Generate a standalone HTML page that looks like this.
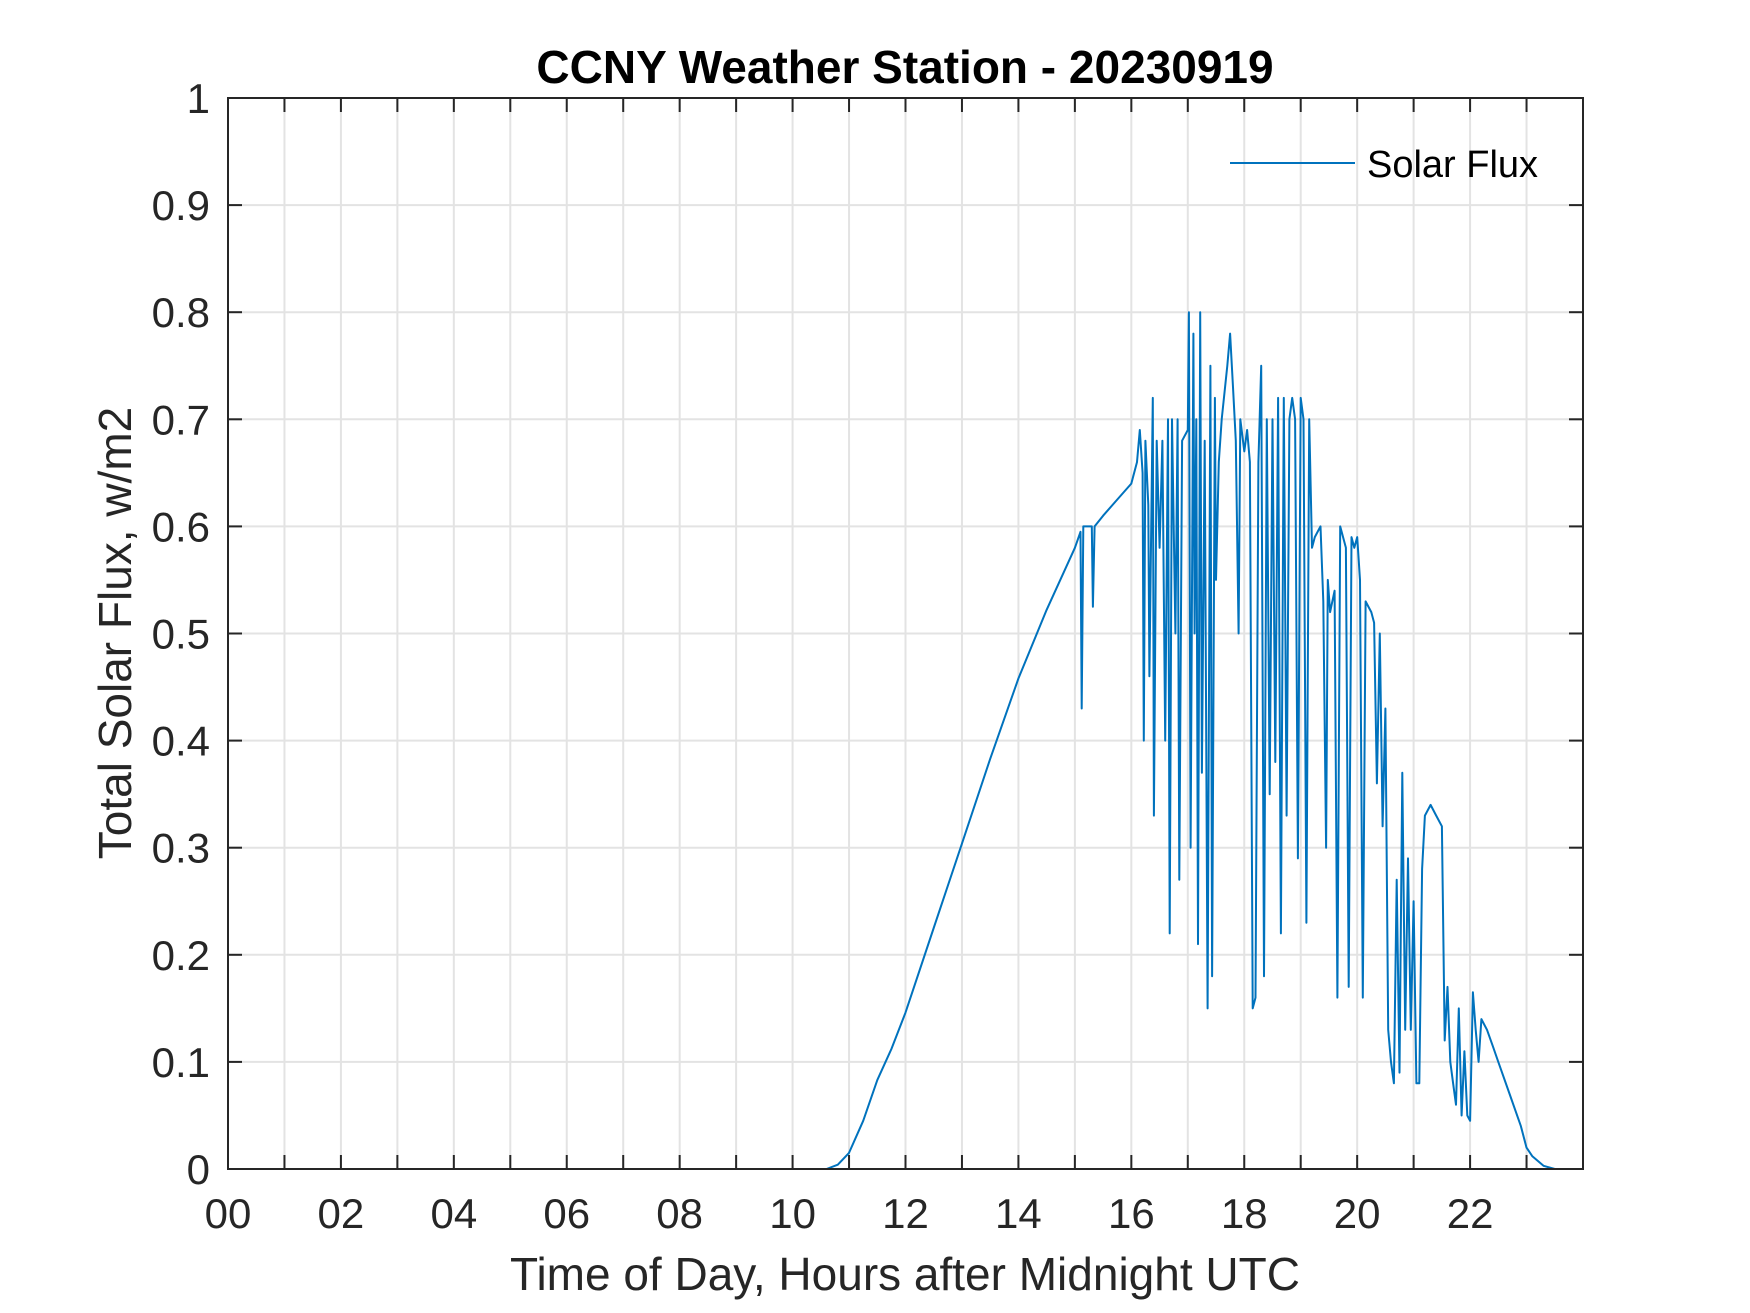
<!DOCTYPE html>
<html><head><meta charset="utf-8">
<style>
html,body{margin:0;padding:0;background:#fff;}
svg{display:block;font-family:"Liberation Sans",Arial,sans-serif;}
</style></head>
<body>
<svg id="chart" width="1750" height="1313" viewBox="0 0 1750 1313">
<rect x="0" y="0" width="1750" height="1313" fill="#fff"/>
<text x="905" y="83" text-anchor="middle" font-size="46" font-weight="bold" fill="#000">CCNY Weather Station - 20230919</text>
<g id="grid"></g>
<g id="ticks"></g>
<g id="plot"></g>
<rect x="228" y="98" width="1355" height="1071" fill="none" stroke="#262626" stroke-width="2"/>
<g id="labels"></g>
<text x="905" y="1290" text-anchor="middle" font-size="46" fill="#262626">Time of Day, Hours after Midnight UTC</text>
<text transform="translate(131,633) rotate(-90)" text-anchor="middle" font-size="46" fill="#262626">Total Solar Flux, w/m2</text>
<g>
<line x1="1230" y1="163" x2="1355" y2="163" stroke="#0072BD" stroke-width="2"/>
<text x="1367" y="177" font-size="38" fill="#000">Solar Flux</text>
</g>
</svg>
<script>
const hours = [0,10.6,10.8,11,11.25,11.5,11.75,12,12.5,13,13.5,14,14.5,15,15.1,15.12,15.15,15.3,15.32,15.35,15.5,15.75,16,16.1,16.15,16.2,16.22,16.25,16.3,16.32,16.38,16.4,16.45,16.5,16.55,16.6,16.65,16.68,16.72,16.78,16.82,16.85,16.9,17.0,17.02,17.05,17.1,17.12,17.15,17.18,17.22,17.25,17.3,17.35,17.4,17.43,17.48,17.5,17.55,17.6,17.7,17.75,17.8,17.85,17.9,17.93,18.0,18.05,18.1,18.15,18.2,18.25,18.3,18.35,18.4,18.45,18.5,18.55,18.6,18.65,18.7,18.75,18.8,18.85,18.9,18.95,19.0,19.05,19.1,19.15,19.2,19.25,19.35,19.4,19.45,19.48,19.52,19.6,19.65,19.7,19.8,19.85,19.9,19.95,20.0,20.05,20.1,20.15,20.25,20.3,20.35,20.4,20.45,20.5,20.55,20.6,20.65,20.7,20.75,20.8,20.85,20.9,20.95,21.0,21.05,21.1,21.15,21.2,21.3,21.4,21.5,21.55,21.6,21.65,21.7,21.75,21.8,21.85,21.9,21.95,22.0,22.05,22.1,22.15,22.2,22.3,22.4,22.5,22.7,22.9,23.0,23.1,23.3,23.5,24];
const flux = [0,0,0.004,0.015,0.045,0.083,0.112,0.146,0.225,0.304,0.383,0.458,0.522,0.58,0.595,0.43,0.6,0.6,0.525,0.6,0.61,0.625,0.64,0.66,0.69,0.65,0.40,0.68,0.62,0.46,0.72,0.33,0.68,0.58,0.68,0.40,0.70,0.22,0.70,0.50,0.70,0.27,0.68,0.69,0.80,0.30,0.78,0.50,0.70,0.21,0.80,0.37,0.68,0.15,0.75,0.18,0.72,0.55,0.66,0.70,0.75,0.78,0.73,0.68,0.50,0.70,0.67,0.69,0.66,0.15,0.16,0.66,0.75,0.18,0.70,0.35,0.70,0.38,0.72,0.22,0.72,0.33,0.70,0.72,0.70,0.29,0.72,0.70,0.23,0.70,0.58,0.59,0.60,0.53,0.30,0.55,0.52,0.54,0.16,0.60,0.58,0.17,0.59,0.58,0.59,0.55,0.16,0.53,0.52,0.51,0.36,0.50,0.32,0.43,0.13,0.10,0.08,0.27,0.09,0.37,0.13,0.29,0.13,0.25,0.08,0.08,0.28,0.33,0.34,0.33,0.32,0.12,0.17,0.10,0.08,0.06,0.15,0.05,0.11,0.05,0.045,0.165,0.13,0.10,0.14,0.13,0.115,0.10,0.07,0.04,0.02,0.012,0.003,0,0];
const xTicks = ["00","02","04","06","08","10","12","14","16","18","20","22"];
const yTicks = ["0","0.1","0.2","0.3","0.4","0.5","0.6","0.7","0.8","0.9","1"];

const NS = "http://www.w3.org/2000/svg";
const X0 = 228, X1 = 1583, Y0 = 1169, Y1 = 98;
function xs(h){ return X0 + (h/24)*(X1-X0); }
function ys(v){ return Y0 - v*(Y0-Y1); }
function mk(tag, attrs, parent){ const e = document.createElementNS(NS, tag); for (const k in attrs) e.setAttribute(k, attrs[k]); parent.appendChild(e); return e; }
const grid = document.getElementById('grid'), ticks = document.getElementById('ticks'), labels = document.getElementById('labels'), plot = document.getElementById('plot');

for (let h = 1; h < 24; h++) {
  const x = xs(h);
  const g = mk('line', {x1:x, y1:Y1, x2:x, y2:Y0, stroke:'#e3e3e3', 'stroke-width':2}, grid);
  
  
  const t1 = mk('line', {x1:x, y1:Y0, x2:x, y2:Y0-14, stroke:'#262626', 'stroke-width':2}, ticks);
  
  
  const t2 = mk('line', {x1:x, y1:Y1, x2:x, y2:Y1+14, stroke:'#262626', 'stroke-width':2}, ticks);
  
  
}
xTicks.forEach((lab, i) => {
  const t = mk('text', {x:xs(i*2), y:1228, 'text-anchor':'middle', 'font-size':42, fill:'#262626'}, labels);
  t.textContent = lab;
  
  
});
yTicks.forEach((lab, i) => {
  const v = parseFloat(lab), y = ys(v);
  if (i > 0 && i < yTicks.length-1) {
    const g = mk('line', {x1:X0, y1:y, x2:X1, y2:y, stroke:'#e3e3e3', 'stroke-width':2}, grid);
    
    
    const t1 = mk('line', {x1:X0, y1:y, x2:X0+14, y2:y, stroke:'#262626', 'stroke-width':2}, ticks);
    
    
    const t2 = mk('line', {x1:X1, y1:y, x2:X1-14, y2:y, stroke:'#262626', 'stroke-width':2}, ticks);
    
    
  }
  const t = mk('text', {x:210, y:y+15, 'text-anchor':'end', 'font-size':42, fill:'#262626'}, labels);
  t.textContent = lab;
  
  
});
const pts = hours.map((h, i) => xs(h).toFixed(1) + ',' + ys(flux[i]).toFixed(1)).join(' ');
const line = mk('polyline', {points:pts, fill:'none', stroke:'#0072BD', 'stroke-width':2, 'stroke-linejoin':'round'}, plot);


</script>
</body></html>
